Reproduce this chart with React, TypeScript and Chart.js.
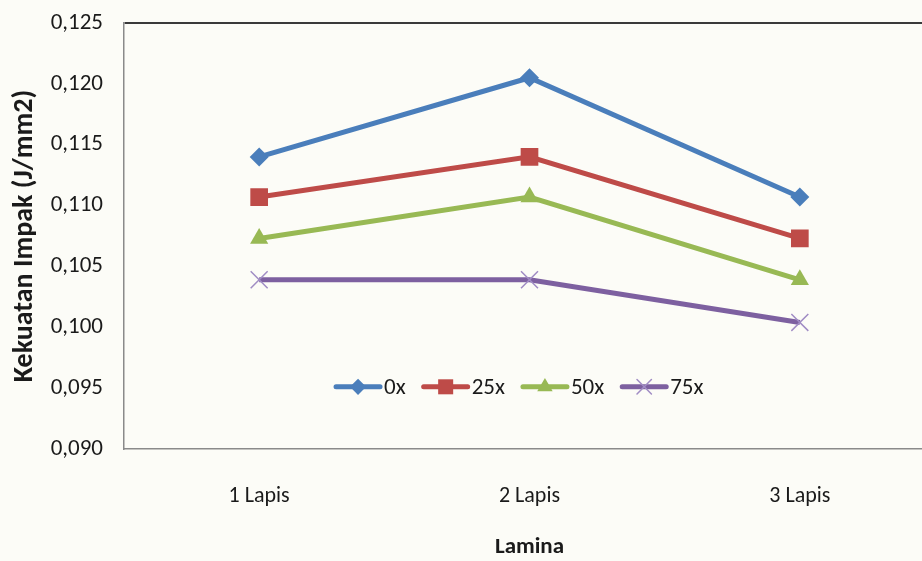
import React, { useEffect, useRef } from "react";
import { Chart, registerables } from "chart.js";
import { drawPoint } from "chart.js/helpers";

Chart.register(...registerables);

const categories = ["1 Lapis", "2 Lapis", "3 Lapis"];
const seriesNames = ["0x", "25x", "50x", "75x"];
const values0x = [0.114, 0.1205, 0.1107];
const values25x = [0.1107, 0.114, 0.1073];
const values50x = [0.1073, 0.1107, 0.1039];
const values75x = [0.1039, 0.1039, 0.1004];
const yTicks = [0.09, 0.095, 0.1, 0.105, 0.11, 0.115, 0.12, 0.125];
const yTitle = "Kekuatan Impak (J/mm2)";
const xTitle = "Lamina";

const colors = ["#4A7EBB", "#BE4B48", "#98B954", "#7D60A0"];
const pointStyles = ["rectRot", "rect", "triangle", "crossRot"];
const pointRadii = [9.5, 12.5, 10.5, 12];
const FONT = "Carlito, Lato, 'Open Sans', sans-serif";

const legendPlugin = {
  id: "customLegend",
  afterDatasetsDraw(chart: any) {
    const { ctx, chartArea } = chart;
    const cx = chartArea.left + (chartArea.right - chartArea.left) * 0.488;
    const cy = chartArea.top + (chartArea.bottom - chartArea.top) * 0.854;
    ctx.save();
    ctx.font = `23px ${FONT}`;
    const lineLen = 44;
    const gapText = 4;
    const gapItem = 18;
    const items = chart.data.datasets.map((ds: any) => ({
      ds,
      w: lineLen + gapText + ctx.measureText(ds.label).width,
    }));
    const total = items.reduce((s: number, it: any) => s + it.w, 0) + gapItem * (items.length - 1);
    let x = cx - total / 2;
    items.forEach((it: any) => {
      const ds = it.ds;
      ctx.strokeStyle = ds.borderColor;
      ctx.lineWidth = 5;
      ctx.lineCap = "round";
      ctx.beginPath();
      ctx.moveTo(x, cy);
      ctx.lineTo(x + lineLen, cy);
      ctx.stroke();
      ctx.fillStyle = ds.pointBackgroundColor;
      ctx.strokeStyle = ds.pointBorderColor;
      ctx.lineWidth = ds.pointBorderWidth;
      drawPoint(
        ctx,
        { pointStyle: ds.pointStyle, radius: ds.pointRadius * 0.85, rotation: 0, borderWidth: ds.pointBorderWidth },
        x + lineLen / 2,
        cy
      );
      ctx.fillStyle = "#1a1a1a";
      ctx.textAlign = "left";
      ctx.textBaseline = "middle";
      ctx.fillText(ds.label, x + lineLen + gapText, cy + 1);
      x += it.w + gapItem;
    });
    ctx.restore();
  },
};

const bgPlugin = {
  id: "bgFill",
  beforeDraw(chart: any) {
    const { ctx, width, height } = chart;
    ctx.save();
    ctx.fillStyle = "#fcfcf7";
    ctx.fillRect(0, 0, width, height);
    ctx.restore();
  },
};

export default function App() {
  const ref = useRef<HTMLCanvasElement | null>(null);

  useEffect(() => {
    if (!ref.current) return;
    const seriesValues = [values0x, values25x, values50x, values75x];
    const datasets = seriesNames.map((name, i) => {
      const isCross = pointStyles[i] === "crossRot";
      return {
        label: name,
        data: seriesValues[i],
        borderColor: colors[i],
        backgroundColor: colors[i],
        borderWidth: 5,
        pointStyle: pointStyles[i],
        pointRadius: pointRadii[i],
        pointHoverRadius: pointRadii[i],
        pointBackgroundColor: colors[i],
        pointBorderColor: isCross ? "#a08cc4" : colors[i],
        pointBorderWidth: isCross ? 1.5 : 0,
        tension: 0,
        fill: false,
      };
    });

    const chart = new Chart(ref.current, {
      type: "line",
      data: { labels: categories, datasets },
      plugins: [bgPlugin, legendPlugin],
      options: {
        responsive: false,
        animation: false,
        devicePixelRatio: 1,
        layout: { padding: { left: 0, top: 23, right: 25, bottom: 0 } },
        plugins: {
          legend: { display: false },
          tooltip: { enabled: false },
        },
        scales: {
          x: {
            type: "category",
            offset: true,
            grid: { display: false, drawTicks: false },
            border: { display: true, color: "#8a8a8a", width: 1.5 },
            ticks: {
              padding: 34,
              color: "#1a1a1a",
              font: { family: FONT, size: 22 },
              maxRotation: 0,
            },
            title: {
              display: true,
              text: xTitle,
              color: "#1a1a1a",
              font: { family: FONT, size: 23, weight: "bold" },
              padding: { top: 0, bottom: 0 },
            },
            afterFit(scale: any) {
              scale.height = 112;
              scale.paddingLeft = 0;
              scale.paddingRight = 0;
            },
          },
          y: {
            min: 0.09,
            max: 0.125,
            grid: {
              display: true,
              drawTicks: false,
              color: (c: any) => (c.tick && Math.abs(c.tick.value - 0.125) < 1e-9 ? "#3a3a3a" : "rgba(0,0,0,0)"),
              lineWidth: 2,
            },
            border: { display: true, color: "#8a8a8a", width: 1.5 },
            afterBuildTicks(scale: any) {
              scale.ticks = yTicks.map((v) => ({ value: v }));
            },
            ticks: {
              padding: 21,
              color: "#1a1a1a",
              font: { family: FONT, size: 23 },
              callback: (v: any) => Number(v).toFixed(3).replace(".", ","),
            },
            title: {
              display: true,
              text: yTitle,
              color: "#1a1a1a",
              font: { family: FONT, size: 28, weight: "bold" },
              padding: { top: 8, bottom: 0 },
            },
            afterFit(scale: any) {
              scale.width = 124;
              scale.paddingTop = 0;
              scale.paddingBottom = 0;
            },
          },
        },
      },
    } as any);
    return () => chart.destroy();
  }, []);

  return (
    <div
      style={{
        position: "fixed",
        left: 0,
        top: 0,
        width: 922,
        height: 561,
        overflow: "hidden",
        background: "#fcfcf7",
      }}
    >
      <canvas ref={ref} width={960} height={561} style={{ display: "block" }} />
    </div>
  );
}
